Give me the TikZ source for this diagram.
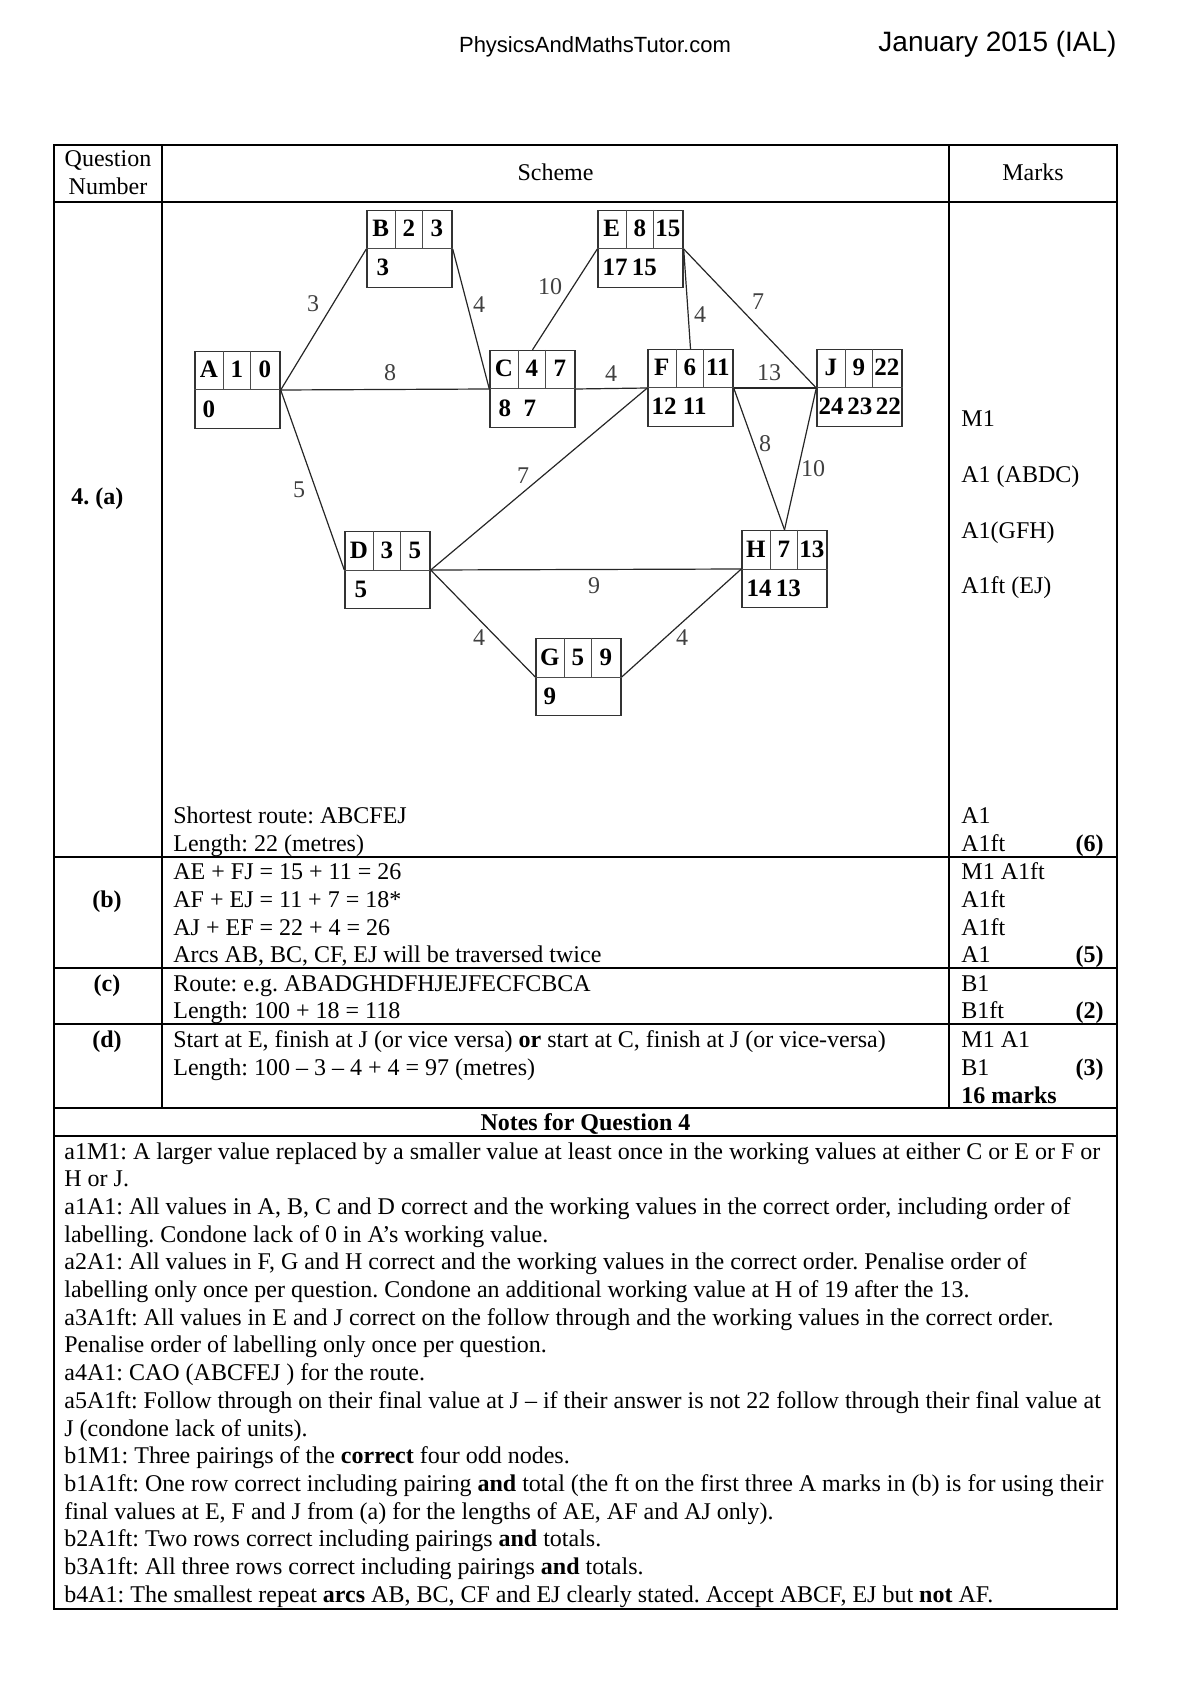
\documentclass[tikz,border=0pt]{standalone}
\usepackage{fontspec}
\setmainfont{Liberation Serif}
\newfontfamily\arialfont{Liberation Sans}
\usetikzlibrary{calc}
\frenchspacing
\newcommand\mainsz{\fontsize{12}{14}\selectfont}
\newcommand\netbox[8]{%
  \node[nbox] (#1) at (#2,#3) {};
  \draw[cellline] (#1.west) -- (#1.east);
  \draw[cellline] ($(#1.north west)+(29,0)$) -- ($(#1.west)+(29,0)$);
  \draw[cellline] ($(#1.north west)+(56,0)$) -- ($(#1.west)+(56,0)$);
  \node[btxt,anchor=base] (#1l) at ($(#1.west)+(14.5,-12)$) {#4};
  \node[btxt,anchor=base] (#1a) at ($(#1.west)+(42.5,-12)$) {#5};
  \node[btxt,anchor=base] (#1b) at ($(#1.west)+(70.5,-12)$) {#6};
  \node[btxt,anchor=base west] (#1w) at ($(#1.west)+(#8,27)$) {#7};
}
\begin{document}
\frenchspacing
\begin{tikzpicture}[x=0.5pt,y=-0.5pt,
  tline/.style={line width=0.6pt},
  nbox/.style={draw=black!80, line width=0.7pt, minimum width=42.5pt, minimum height=38.5pt, inner sep=0pt},
  cellline/.style={draw=black!70, line width=0.5pt},
  edge/.style={draw=black!85, line width=0.6pt},
  elab/.style={font=\fontsize{12}{13}\selectfont, text=black!75, inner sep=0pt},
  btxt/.style={font=\fontsize{12.5}{14}\selectfont\bfseries, inner sep=0pt},
  txt/.style={font=\mainsz, anchor=base west, inner sep=0pt},
  btx/.style={font=\mainsz\bfseries, anchor=base west, inner sep=0pt},
  ctxt/.style={font=\mainsz, anchor=base, inner sep=0pt},
  rtxt/.style={font=\mainsz\bfseries, anchor=base east, inner sep=0pt},
]
\useasboundingbox (0,0) rectangle (1190,1684);

% header
\node[font=\arialfont\fontsize{11}{13}\selectfont, anchor=base, inner sep=0pt] (site) at (595,53) {PhysicsAndMathsTutor.com};
\node[font=\arialfont\fontsize{14}{16}\selectfont, anchor=base east, inner sep=0pt] (date) at (1117,52) {January 2015 (IAL)};

% table lines
\draw[tline] (54,145) rectangle (1117,1609);
\draw[tline] (54,202) -- (1117,202);
\draw[tline] (162,145) -- (162,1108);
\draw[tline] (949,145) -- (949,1108);
\draw[tline] (54,857) -- (1117,857);
\draw[tline] (54,968) -- (1117,968);
\draw[tline] (54,1024) -- (1117,1024);
\draw[tline] (54,1108) -- (1117,1108);
\draw[tline] (54,1136) -- (1117,1136);

% table header
\node[ctxt] (hq1) at (108,167) {Question};
\node[ctxt] (hq2) at (108,195) {Number};
\node[ctxt] (hs) at (555.5,181) {Scheme};
\node[ctxt] (hm) at (1033,181) {Marks};

% question labels
\node[btx] (qa) at (71,504) {4. (a)};
\node[font=\mainsz\bfseries, anchor=base, inner sep=0pt] (qb) at (107,907) {(b)};
\node[font=\mainsz\bfseries, anchor=base, inner sep=0pt] (qc) at (107,991) {(c)};
\node[font=\mainsz\bfseries, anchor=base, inner sep=0pt] (qd) at (107,1047) {(d)};

% network boxes
\netbox{A}{237.5}{390}{A}{1}{0}{0}{8}
\netbox{B}{409.5}{249}{B}{2}{3}{3}{10}
\netbox{C}{532.5}{389}{C}{4}{7}{8\enspace 7}{9}
\netbox{D}{387.5}{570}{D}{3}{5}{5}{10}
\netbox{E}{640.5}{249}{E}{8}{15}{17\,15}{5}
\netbox{F}{690.5}{388}{F}{6}{11}{12 11}{4}
\netbox{G}{578.5}{677}{G}{5}{9}{9}{8}
\netbox{H}{784.5}{569}{H}{7}{13}{14\,13}{5}
\netbox{J}{859.5}{388}{J}{9}{22}{24\kern1.8pt\relax 23\kern1.8pt\relax 22}{2}

% edges
\draw[edge] (A.east) -- (B.west);
\draw[edge] (B.east) -- (C.west);
\draw[edge] (A.east) -- (C.west);
\draw[edge] (A.east) -- (D.west);
\draw[edge] (C.north) -- (E.west);
\draw[edge] (C.east) -- (F.west);
\draw[edge] (D.east) -- (F.west);
\draw[edge] (D.east) -- (H.west);
\draw[edge] (D.east) -- (G.west);
\draw[edge] (G.east) -- (H.west);
\draw[edge] (E.east) -- (F.north);
\draw[edge] (E.east) -- (J.west);
\draw[edge] (F.east) -- (J.west);
\draw[edge] (F.east) -- (H.north);
\draw[edge] (J.west) -- (H.north);

% edge weights
\node[elab] (wAB) at (313,304) {3};
\node[elab] (wBC) at (479,305) {4};
\node[elab] (wCE) at (550,287) {10};
\node[elab] (wAC) at (390,373) {8};
\node[elab] (wCF) at (611,374) {4};
\node[elab] (wEF) at (700,315) {4};
\node[elab] (wEJ) at (758,302) {7};
\node[elab] (wFJ) at (769,373) {13};
\node[elab] (wAD) at (299,490) {5};
\node[elab] (wDF) at (523,476) {7};
\node[elab] (wDH) at (594,586) {9};
\node[elab] (wDG) at (479,638) {4};
\node[elab] (wFH) at (765,444) {8};
\node[elab] (wJH) at (813,469) {10};
\node[elab] (wGH) at (682,638) {4};

% scheme text
\node[txt] (s1) at (173,823) {Shortest route: ABCFEJ};
\node[txt] (s2) at (173,851) {Length: 22 (metres)};
\node[txt] (s3) at (173,879) {AE + FJ = 15 + 11 = 26};
\node[txt] (s4) at (173,907) {AF + EJ = 11 + 7 = 18*};
\node[txt] (s5) at (173,935) {AJ + EF = 22 + 4 = 26};
\node[txt] (s6) at (173,962) {Arcs AB, BC, CF, EJ will be traversed twice};
\node[txt] (s7) at (173,991) {Route: e.g. ABADGHDFHJEJFECFCBCA};
\node[txt] (s8) at (173,1018) {Length: 100 + 18 = 118};
\node[txt] (s9) at (173,1047) {Start at E, finish at J (or vice versa) \textbf{or} start at C, finish at J (or vice-versa)};
\node[txt] (s10) at (173,1075) {Length: 100 – 3 – 4 + 4 = 97 (metres)};

% marks
\node[txt] (m1) at (961,427) {M1};
\node[txt] (m2) at (961,482) {A1 (ABDC)};
\node[txt] (m3) at (961,538) {A1(GFH)};
\node[txt] (m4) at (961,593) {A1ft (EJ)};
\node[txt] (m5) at (961,823) {A1};
\node[txt] (m6) at (961,851) {A1ft};
\node[rtxt] (t6) at (1104,851) {(6)};
\node[txt] (m7) at (961,879) {M1 A1ft};
\node[txt] (m8) at (961,907) {A1ft};
\node[txt] (m9) at (961,935) {A1ft};
\node[txt] (m10) at (961,962) {A1};
\node[rtxt] (t5) at (1104,962) {(5)};
\node[txt] (m11) at (961,991) {B1};
\node[txt] (m12) at (961,1018) {B1ft};
\node[rtxt] (t2) at (1104,1018) {(2)};
\node[txt] (m13) at (961,1047) {M1 A1};
\node[txt] (m14) at (961,1075) {B1};
\node[rtxt] (t3) at (1104,1075) {(3)};
\node[btx] (m15) at (961,1103) {16 marks};

% notes
\node[font=\mainsz\bfseries, anchor=base, inner sep=0pt] (nh) at (585.5,1130) {Notes for Question 4};
\node[txt] (n1) at (64,1159) {a1M1: A larger value replaced by a smaller value at least once in the working values at either C or E or F or};
\node[txt] (n2) at (64,1186.7) {H or J.};
\node[txt] (n3) at (64,1214.4) {a1A1: All values in A, B, C and D correct and the working values in the correct order, including order of};
\node[txt] (n4) at (64,1242.1) {labelling. Condone lack of 0 in A’s working value.};
\node[txt] (n5) at (64,1269.8) {a2A1: All values in F, G and H correct and the working values in the correct order. Penalise order of};
\node[txt] (n6) at (64,1297.5) {labelling only once per question. Condone an additional working value at H of 19 after the 13.};
\node[txt] (n7) at (64,1325.2) {a3A1ft: All values in E and J correct on the follow through and the working values in the correct order.};
\node[txt] (n8) at (64,1352.9) {Penalise order of labelling only once per question.};
\node[txt] (n9) at (64,1380.6) {a4A1: CAO (ABCFEJ ) for the route.};
\node[txt] (n10) at (64,1408.3) {a5A1ft: Follow through on their final value at J – if their answer is not 22 follow through their final value at};
\node[txt] (n11) at (64,1436) {J (condone lack of units).};
\node[txt] (n12) at (64,1463.7) {b1M1: Three pairings of the \textbf{correct} four odd nodes.};
\node[txt] (n13) at (64,1491.4) {b1A1ft: One row correct including pairing \textbf{and} total (the ft on the first three A marks in (b) is for using their};
\node[txt] (n14) at (64,1519.1) {final values at E, F and J from (a) for the lengths of AE, AF and AJ only).};
\node[txt] (n15) at (64,1546.8) {b2A1ft: Two rows correct including pairings \textbf{and} totals.};
\node[txt] (n16) at (64,1574.5) {b3A1ft: All three rows correct including pairings \textbf{and} totals.};
\node[txt] (n17) at (64,1602.2) {b4A1: The smallest repeat \textbf{arcs} AB, BC, CF and EJ clearly stated. Accept ABCF, EJ but \textbf{not} AF.};
\end{tikzpicture}
\end{document}
